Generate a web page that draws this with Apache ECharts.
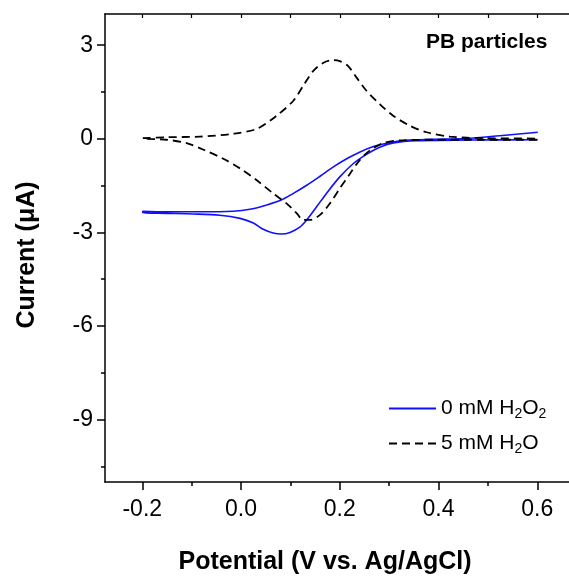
<!DOCTYPE html>
<html>
<head>
<meta charset="utf-8">
<script src="https://cdn.jsdelivr.net/npm/echarts@6/dist/echarts.min.js"></script>
<style>html,body{margin:0;padding:0;background:#fff;overflow:hidden;}#c{width:569px;height:581px;}</style>
</head>
<body>
<div id="c"></div>
<script>
// ---- data ----
const xMajorTicks = [-0.2, 0.0, 0.2, 0.4, 0.6];
const xMinorTicks = [-0.1, 0.1, 0.3, 0.5];
const xTopTicks = [-0.2, -0.1, 0.0, 0.1, 0.2, 0.3, 0.4, 0.5, 0.6];
const yMajorTicks = [3, 0, -3, -6, -9];
const yMinorTicks = [1.5, -1.5, -4.5, -7.5, -10.5];

const seriesNames = ['0 mM H2O2', '5 mM H2O'];

// 0 mM H2O2 (blue, solid): cathodic sweep 0.6 -> -0.2 then back to 0.6
const h2o2Potential = [0.601, 0.457, 0.356, 0.309, 0.281, 0.254, 0.227, 0.200, 0.173, 0.153, 0.133, 0.119, 0.099, 0.082, 0.065, 0.045, 0.025, -0.002, -0.043, -0.097, -0.151, -0.199,
  -0.199, -0.151, -0.083, -0.016, 0.018, 0.052, 0.079, 0.106, 0.133, 0.160, 0.187, 0.214, 0.240, 0.268, 0.295, 0.335, 0.389, 0.457, 0.524, 0.601];
const h2o2Current = [-0.03, -0.04, -0.06, -0.13, -0.27, -0.50, -0.80, -1.22, -1.75, -2.18, -2.60, -2.83, -3.00, -3.05, -3.02, -2.90, -2.70, -2.55, -2.45, -2.41, -2.39, -2.37,
  -2.32, -2.34, -2.34, -2.32, -2.26, -2.12, -1.98, -1.75, -1.49, -1.20, -0.90, -0.64, -0.43, -0.25, -0.14, -0.05, -0.02, 0.01, 0.10, 0.21];

// 5 mM H2O (black, dashed): anodic sweep -0.2 -> 0.6 then back to -0.2
const h2oPotential = [-0.199, -0.151, -0.083, -0.016, 0.032, 0.072, 0.106, 0.126, 0.146, 0.167, 0.187, 0.200, 0.217, 0.234, 0.254, 0.281, 0.308, 0.342, 0.376, 0.423, 0.491, 0.601,
  0.601, 0.491, 0.389, 0.322, 0.288, 0.261, 0.240, 0.221, 0.200, 0.180, 0.160, 0.140, 0.126, 0.113, 0.092, 0.065, 0.032, -0.002, -0.036, -0.076, -0.110, -0.151, -0.199];
const h2oCurrent = [0.02, 0.05, 0.07, 0.16, 0.32, 0.74, 1.22, 1.70, 2.17, 2.44, 2.52, 2.49, 2.33, 1.96, 1.54, 1.11, 0.74, 0.42, 0.21, 0.07, 0.02, 0.00,
  -0.03, -0.03, -0.03, -0.05, -0.14, -0.37, -0.69, -1.11, -1.59, -2.07, -2.44, -2.60, -2.60, -2.39, -2.07, -1.75, -1.33, -0.95, -0.64, -0.35, -0.14, -0.03, 0.00];

const xMin = -0.2755, xMax = 0.6865;
const yMin = -11, yMax = 4;

function zip(a, b) { return a.map((v, i) => [v, b[i]]); }

const FONT = "'Liberation Sans', Arial, sans-serif";
const chart = echarts.init(document.getElementById('c'), null, {renderer: 'canvas'});

const gridRect = {left: 105, top: 14, width: 475, height: 468, containLabel: false, outerBoundsMode: 'none'};
const baseX = {type: 'value', min: xMin, max: xMax, splitLine: {show: false}};
const baseY = {type: 'value', min: yMin, max: yMax, splitLine: {show: false}};

chart.setOption({
  animation: false,
  backgroundColor: '#fff',
  grid: [Object.assign({}, gridRect), Object.assign({}, gridRect)],
  xAxis: [
    Object.assign({}, baseX, {
      gridIndex: 0, position: 'bottom',
      axisLine: {show: true, onZero: false, lineStyle: {color: '#000', width: 1.5}},
      axisTick: {show: true, inside: false, length: 8, lineStyle: {color: '#000', width: 1.5}, customValues: xMajorTicks},
      axisLabel: {show: true, color: '#000', fontSize: 23, fontFamily: FONT, margin: 16, customValues: xMajorTicks,
        formatter: v => (Math.abs(v) < 1e-9 ? '0.0' : v.toFixed(1))}
    }),
    Object.assign({}, baseX, {
      gridIndex: 0, position: 'top',
      axisLine: {show: true, onZero: false, lineStyle: {color: '#000', width: 1.5}},
      axisTick: {show: true, inside: true, length: 4, lineStyle: {color: '#000', width: 1.2}, customValues: xTopTicks},
      axisLabel: {show: false}
    }),
    Object.assign({}, baseX, {
      gridIndex: 1, position: 'bottom',
      axisLine: {show: false, onZero: false},
      axisTick: {show: true, inside: false, length: 4, lineStyle: {color: '#000', width: 1.5}, customValues: xMinorTicks},
      axisLabel: {show: false}
    })
  ],
  yAxis: [
    Object.assign({}, baseY, {
      gridIndex: 0, position: 'left',
      axisLine: {show: true, onZero: false, lineStyle: {color: '#000', width: 1.5}},
      axisTick: {show: true, inside: false, length: 8, lineStyle: {color: '#000', width: 1.5}, customValues: yMajorTicks},
      axisLabel: {show: true, color: '#000', fontSize: 23, fontFamily: FONT, margin: 12, customValues: yMajorTicks}
    }),
    Object.assign({}, baseY, {
      gridIndex: 1, position: 'left',
      axisLine: {show: false, onZero: false},
      axisTick: {show: true, inside: false, length: 4, lineStyle: {color: '#000', width: 1.5}, customValues: yMinorTicks},
      axisLabel: {show: false}
    })
  ],
  legend: {
    orient: 'vertical',
    left: 388,
    top: 396,
    padding: 0,
    itemWidth: 47,
    itemHeight: 14,
    itemGap: 10,
    data: seriesNames,
    itemStyle: {opacity: 0, color: 'rgba(0,0,0,0)', borderWidth: 0},
    textStyle: {
      color: '#000', fontSize: 21, fontFamily: FONT, lineHeight: 24,
      rich: {
        n: {fontSize: 21, fontFamily: FONT, color: '#000', lineHeight: 24},
        s: {fontSize: 14, fontFamily: FONT, color: '#000', lineHeight: 24, padding: [11, 0, 0, 0]}
      }
    },
    formatter: function (name) {
      return name.replace(/H2O2$/, '{n|H}{s|2}{n|O}{s|2}').replace(/H2O$/, '{n|H}{s|2}{n|O}').replace(/^([^{]*)/, '{n|$1}');
    }
  },
  graphic: [
    {type: 'text', left: 426, top: 32, style: {text: 'PB particles', font: "bold 21px " + FONT, fill: '#000'}},
    {type: 'text', x: 27, y: 255, rotation: Math.PI / 2,
      style: {text: 'Current (\u03bcA)', font: "bold 25px " + FONT, fill: '#000', align: 'center', verticalAlign: 'middle'}},
    {type: 'text', x: 325, y: 562,
      style: {text: 'Potential (V vs. Ag/AgCl)', font: "bold 25px " + FONT, fill: '#000', align: 'center', verticalAlign: 'middle'}}
  ],
  series: [
    {
      name: seriesNames[0], type: 'line', xAxisIndex: 0, yAxisIndex: 0,
      data: zip(h2o2Potential, h2o2Current), showSymbol: false, symbol: 'none', smooth: 0.3,
      lineStyle: {color: '#1010ff', width: 1.6}, itemStyle: {color: '#1010ff'}
    },
    {
      name: seriesNames[1], type: 'line', xAxisIndex: 0, yAxisIndex: 0,
      data: zip(h2oPotential, h2oCurrent), showSymbol: false, symbol: 'none', smooth: 0.3,
      lineStyle: {color: '#000', width: 1.8, type: [8, 5]}, itemStyle: {color: '#000'}
    }
  ]
});
</script>
</body>
</html>
